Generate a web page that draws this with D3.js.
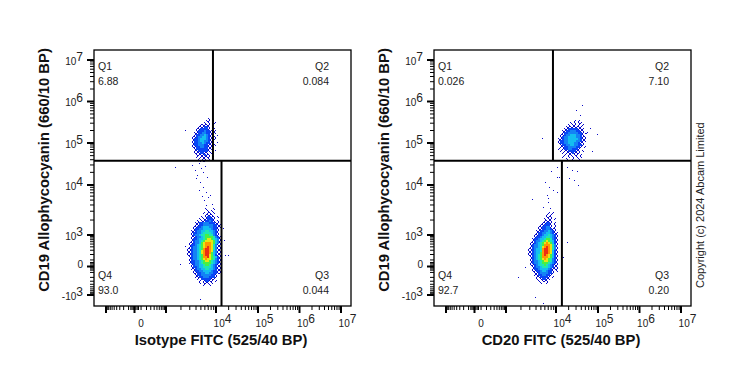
<!DOCTYPE html>
<html>
<head>
<meta charset="utf-8">
<script src="https://cdn.jsdelivr.net/npm/d3@7"></script>
<style>
  body { margin: 0; background: #fff; }
  svg { display: block; font-family: "Liberation Sans", Arial, sans-serif; }
  .cell { shape-rendering: crispEdges; }
  .axis path { display: none; }
  .axis line { stroke: #000; }
  .title { font-weight: bold; font-size: 14.8px; fill: #111; }
  .stat { font-size: 10.5px; fill: #222; }
  .tick-label { font-size: 10px; fill: #222; }
  .tick-label .exp { font-size: 12px; }
</style>
</head>
<body>
<script>
// Axis decades and the channel (0-256) each one sits on
const decades = [-1000, 0, 1000, 1e4, 1e5, 1e6, 1e7];
const decadeChannels = [11.5, 40, 71.5, 121.5, 163.5, 205, 246.5];
const decadeNames = [["-10", "3"], ["0", ""], ["10", "3"], ["10", "4"], ["10", "5"], ["10", "6"], ["10", "7"]];
// The x axis leaves out the -10^3 and 10^3 labels
const xLabelled = [0, 1e4, 1e5, 1e6, 1e7];
const minorTicks = [-900, -800, -700, -600, -500, -400, -300, -200, -100, -60, -40, -20, 20, 40, 60, 100, 200, 300, 400, 500, 600, 700, 800, 900,
  2e3, 3e3, 4e3, 5e3, 6e3, 7e3, 8e3, 9e3, 2e4, 3e4, 4e4, 5e4, 6e4, 7e4, 8e4, 9e4,
  2e5, 3e5, 4e5, 5e5, 6e5, 7e5, 8e5, 9e5, 2e6, 3e6, 4e6, 5e6, 6e6, 7e6, 8e6, 9e6];

// Density colours, level 1 to 9
const levelColors = ["#0a0ac8", "#0a46f5", "#1482f5", "#14bef0", "#1ee6b4", "#46f046", "#e6e614", "#ff9600", "#eb2d14"];

const panelNames = ["isotype", "cd20"];
const xTitles = ["Isotype FITC (525/40 BP)", "CD20 FITC (525/40 BP)"];
const yTitle = "CD19 Allophycocyanin (660/10 BP)";
const copyrightText = "Copyright (c) 2024 Abcam Limited";

// Gates in axis units: [top vertical, bottom vertical, horizontal]
const isotypeGates = [8900, 13900, 37000];
const cd20Gates = [8900, 14200, 37000];

// Quadrant frequencies Q1, Q2, Q3, Q4
const quadrantNames = ["Q1", "Q2", "Q3", "Q4"];
const isotypeStats = ["6.88", "0.084", "0.044", "93.0"];
const cd20Stats = ["0.026", "7.10", "0.20", "92.7"];

// Density, 2x2 channel bins. Each block: left channel, top channel, rows
const isotypeUpper = [94, 188, [
  "..........1...",
  ".........11.1.",
  "........1.1..1",
  "......11111.1.",
  ".....111221.1.",
  "....1122221...",
  "....12223221.1",
  "...112233221.1",
  "...122334321..",
  "..1123344321.1",
  "..1223444321.1",
  "..1223443321..",
  "..1223343221..",
  "..1223332211.1",
  "..1122332211..",
  "...122222211..",
  "...11222221.1.",
  "...1112211.1..",
  "....1111211...",
  "....1.11111.1.",
  ".....1.11.1.1.",
  "......111....."
]];
const isotypeLower = [91, 98, [
  "..........1...1....",
  "...........1.1.....",
  ".........1.11.1....",
  "..........1111.....",
  "........1.12211.1..",
  ".......1.112221....",
  "......1.1122321.1..",
  ".....112233322211..",
  ".....1122333332211.",
  "....11223444332211.",
  "....1223344443221..",
  "...11233445544321..",
  "...12233455554321..",
  "...12334556655321..",
  "...112334566665321.",
  "...122344567765431.",
  "...123345677776431.",
  "..1123346788876431.",
  "..1223456788875311.",
  "..1233456789875311.",
  ".11233456899875311.",
  ".11233457899874311.",
  ".11233457899864311.",
  ".11233456899764211.",
  "..1233456889765421.",
  "..1233456787765321.",
  "..1223345677654321.",
  "..1223345666654321.",
  "...123344566543211.",
  "...122344555543211.",
  "...112334455443211.",
  "....12233444432211.",
  "....11223344332211.",
  ".....12233333221...",
  ".....11223332221...",
  "......1.2222211....",
  ".......1.12211.1...",
  ".......1.111.1.....",
  ".........1..1......"
]];
const cd20Upper = [122, 186, [
  ".........1.1....",
  ".......1.1.11...",
  "......1.11.1.1..",
  ".....11111111...",
  "....1122222111..",
  "...11223332211..",
  "...12233333221.1",
  "..112334443321..",
  "..1233444433211.",
  ".11233444443211.",
  ".12233444433211.",
  ".1223344433211..",
  "..122334433221..",
  "..11223333221.1.",
  ".1.122332221....",
  "..1.11222211.1..",
  "...1.1112111....",
  "....1.11.11.1...",
  "...1..1.1.1.1...",
  ".....1..1..1...."
]];
const cd20Lower = [92, 94, [
  "...........1.1....",
  "..........1.1.....",
  "..........111.....",
  ".........1.11.1...",
  ".........1111.....",
  "........11221.1...",
  ".......112221.1...",
  "......1122331.1...",
  "......112233211...",
  ".....1122334321...",
  ".....12233443211..",
  "....112234454321..",
  "....122344554321..",
  "...1223445665321..",
  "...1233456765421..",
  "..11234567876421..",
  "..12334568887531..",
  "..12334578987531..",
  ".112344589987531..",
  ".112344589987421..",
  ".112344689987421..",
  ".112345689876421..",
  "..12345688876421..",
  "..12345678765321..",
  "..12334567765321..",
  "..12334566654321..",
  "..11234556543211..",
  "...1233455543211..",
  "...1223444432111..",
  "...11223443221.1..",
  "....1123333221....",
  "....112233221.....",
  ".....1122221.1....",
  ".....1.12211......",
  "......1.111.......",
  ".......1..1......."
]];

// Single events outside the blobs, as [x channel, y channel]
const isotypeStray = [[81,139],[98,141],[101,136],[103,131],[105,143],[107,138],[109,134],[102,128],[111,140],[113,129],
  [106,124],[109,119],[112,114],[105,116],[114,109],[110,106],[116,111],[118,102],[112,101],[108,110],
  [123,171],[123,164],[91,176],[120,178],[121,156],[131,51],[134,51],[130,66],[129,78],[86,42],[91,60],[106,7],[113,1]];
const cd20Stray = [[108,168],[111,146],[111,124],[117,135],[123,139],[123,129],[125,129],[115,119],[119,116],[123,114],
  [113,111],[114,108],[98,107],[133,139],[138,136],[143,135],[135,128],[140,126],[144,121],[148,201],[142,196],[146,191],
  [163,172],[156,178],[158,155],[151,173],[128,144],[114,104],[109,99],[116,98],[133,64],[129,49],[84,29],[91,39],[101,9],[109,3]];

const panelData = {
  isotype: { blocks: [isotypeUpper, isotypeLower], stray: isotypeStray, gates: isotypeGates, stats: isotypeStats },
  cd20: { blocks: [cd20Upper, cd20Lower], stray: cd20Stray, gates: cd20Gates, stats: cd20Stats }
};

// Settings
const width = 739;
const height = 370;
const plotSize = 256;
const plotLefts = [94, 434];
const plotTop = 50;

const svg = d3.select("body").append("svg")
  .attr("width", width)
  .attr("height", height);

// Biexponential style transform, linear near zero and log further out
const biex = v => Math.asinh(v / 200);

const x = d3.scaleLinear().domain(decades.map(biex)).range(decadeChannels);
const y = d3.scaleLinear().domain(decades.map(biex)).range(decadeChannels.map(c => plotSize - c));

// Channel scales, one channel is one bin of the instrument
const xChannel = d3.scaleLinear().domain([0, plotSize]).range([0, plotSize]);
const yChannel = d3.scaleLinear().domain([0, plotSize]).range([plotSize, 0]);

panelNames.forEach((name, i) => drawPanel(name, i));

svg.append("text")
  .attr("transform", `translate(704, 288) rotate(-90)`)
  .style("font-size", "11px")
  .style("fill", "#222")
  .text(copyrightText);

function drawPanel(name, i) {
  const data = panelData[name];
  const g = svg.append("g").attr("transform", `translate(${plotLefts[i]}, ${plotTop})`);

  // Flatten the density rows into cells. A level 1 bin holds few events,
  // so it draws as two single dots on a diagonal instead of a filled bin.
  const cells = [];
  data.blocks.forEach(([left, top, rows]) => {
    rows.forEach((row, r) => {
      for (let c = 0; c < row.length; c++) {
        if (row[c] === ".") continue;
        const cx = left + c * 2;
        const cy = top - r * 2;
        if (row[c] === "1") {
          const flip = (r + c) % 2;
          cells.push({ cx: cx, cy: cy - flip, size: 1, level: 1 });
          cells.push({ cx: cx + 1, cy: cy - 1 + flip, size: 1, level: 1 });
        } else {
          cells.push({ cx: cx, cy: cy, size: 2, level: +row[c] });
        }
      }
    });
  });

  g.selectAll("rect.cell")
    .data(cells)
    .enter()
    .append("rect")
      .attr("class", "cell")
      .attr("x", d => xChannel(d.cx))
      .attr("y", d => yChannel(d.cy))
      .attr("width", d => xChannel(d.size) - xChannel(0))
      .attr("height", d => yChannel(0) - yChannel(d.size))
      .attr("fill", d => levelColors[d.level - 1]);

  g.selectAll("rect.stray")
    .data(data.stray)
    .enter()
    .append("rect")
      .attr("class", "cell stray")
      .attr("x", d => xChannel(d[0]))
      .attr("y", d => yChannel(d[1]))
      .attr("width", 1)
      .attr("height", 1)
      .attr("fill", levelColors[0]);

  // Gates
  const [topGate, bottomGate, horizontalGate] = data.gates;
  const gateLines = [
    [x(biex(topGate)), 0, x(biex(topGate)), y(biex(horizontalGate))],
    [x(biex(bottomGate)), y(biex(horizontalGate)), x(biex(bottomGate)), plotSize],
    [0, y(biex(horizontalGate)), plotSize + 1, y(biex(horizontalGate))]
  ];
  g.selectAll("line.gate")
    .data(gateLines)
    .enter()
    .append("line")
      .attr("class", "gate")
      .attr("x1", d => d[0])
      .attr("y1", d => d[1])
      .attr("x2", d => d[2])
      .attr("y2", d => d[3])
      .attr("stroke", "#000")
      .attr("stroke-width", 2);

  // Frame
  g.append("rect")
    .attr("x", 0)
    .attr("y", 0)
    .attr("width", plotSize + 1)
    .attr("height", plotSize)
    .attr("fill", "none")
    .attr("stroke", "#000")
    .attr("stroke-width", 1.3);

  // Minor and major ticks on both axes
  const xAxisG = g.append("g").attr("class", "axis").attr("transform", `translate(0, ${plotSize})`);
  xAxisG.append("g").call(d3.axisBottom(x).tickValues(minorTicks.map(biex)).tickSize(4).tickFormat(""));
  xAxisG.append("g").call(d3.axisBottom(x).tickValues(decades.map(biex)).tickSize(7).tickFormat(""))
    .selectAll("line").attr("stroke-width", 2);

  const yAxisG = g.append("g").attr("class", "axis");
  yAxisG.append("g").call(d3.axisLeft(y).tickValues(minorTicks.map(biex)).tickSize(4).tickFormat(""));
  yAxisG.append("g").call(d3.axisLeft(y).tickValues(decades.map(biex)).tickSize(7).tickFormat(""))
    .selectAll("line").attr("stroke-width", 2);

  // Tick labels, the exponent sits up and to the right of the base
  decades.forEach((v, k) => {
    const [base, exp] = decadeNames[k];
    if (xLabelled.includes(v)) {
      const xLabel = g.append("text")
        .attr("class", "tick-label")
        .attr("x", x(biex(v)) + 7)
        .attr("y", plotSize + 21)
        .attr("text-anchor", "middle")
        .text(base);
      if (exp) xLabel.append("tspan").attr("class", "exp").attr("dy", -4).text(exp);
    }
    const yLabel = g.append("text")
      .attr("class", "tick-label")
      .attr("x", -11)
      .attr("y", y(biex(v)) + (exp ? 5 : 2))
      .attr("text-anchor", "end")
      .text(base);
    if (exp) yLabel.append("tspan").attr("class", "exp").attr("dy", -4).text(exp);
  });

  // Quadrant labels
  const quadPlaces = [[4, 20, "start"], [235, 20, "end"], [235, 229, "end"], [4, 229, "start"]];
  quadrantNames.forEach((q, k) => {
    const [qx, qy, anchor] = quadPlaces[k];
    g.append("text").attr("class", "stat").attr("x", qx).attr("y", qy).attr("text-anchor", anchor).text(q);
    g.append("text").attr("class", "stat").attr("x", qx).attr("y", qy + 15).attr("text-anchor", anchor).text(data.stats[k]);
  });

  // Axis titles
  g.append("text")
    .attr("class", "title")
    .attr("x", 127)
    .attr("y", 295)
    .attr("text-anchor", "middle")
    .text(xTitles[i]);

  g.append("text")
    .attr("class", "title")
    .attr("transform", `translate(-45, 120) rotate(-90)`)
    .attr("text-anchor", "middle")
    .text(yTitle);
}
</script>
</body>
</html>
